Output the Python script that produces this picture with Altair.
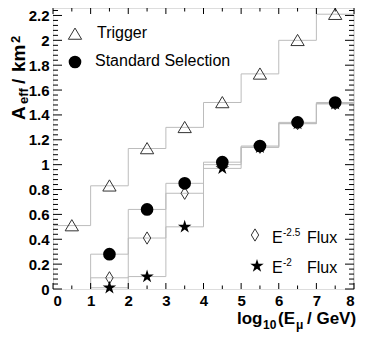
import altair as alt
import pandas as pd

# ---- data ----
centers = [0.5, 1.5, 2.5, 3.5, 4.5, 5.5, 6.5, 7.5]
trigger = [0.51, 0.83, 1.13, 1.30, 1.50, 1.73, 2.00, 2.21]
sel_centers = [1.5, 2.5, 3.5, 4.5, 5.5, 6.5, 7.5]
selection = [0.28, 0.64, 0.85, 1.02, 1.15, 1.34, 1.50]
flux25 = [0.09, 0.41, 0.77, 1.00, 1.14, 1.33, 1.49]
flux2 = [0.01, 0.10, 0.50, 0.97, 1.14, 1.33, 1.49]

y_major = [0, 0.2, 0.4, 0.6, 0.8, 1.0, 1.2, 1.4, 1.6, 1.8, 2.0, 2.2]
x_major = [0, 1, 2, 3, 4, 5, 6, 7, 8]

FONT = "Liberation Sans"
W, H = 301, 281
xs = alt.Scale(domain=[0, 8], nice=False, zero=False)
ys = alt.Scale(domain=[0, 2.26], nice=False, zero=False)

X_AX = alt.Axis(values=x_major, format="d", ticks=False, domain=False, grid=False,
                labelFont=FONT, labelFontWeight="bold", labelFontSize=15,
                labelColor="black", labelPadding=4, title=None)
Y_AX = alt.Axis(values=y_major, format=".1~f", ticks=False, domain=False, grid=False,
                labelFont=FONT, labelFontWeight="bold", labelFontSize=15,
                labelColor="black", labelPadding=4, title=None)

TRI = "M0,-0.85L0.95,0.75L-0.95,0.75Z"
DIA = "M0,-1L0.6,0L0,1L-0.6,0Z"
STAR = ("M0,-1L0.223,-0.307L0.951,-0.309L0.361,0.117L0.588,0.809L0,0.38"
        "L-0.588,0.809L-0.361,0.117L-0.951,-0.309L-0.223,-0.307Z")


def steps(name, cs, vals):
    rows = []
    i = 0
    rows.append({"s": name, "i": i, "x": cs[0] - 0.5, "y": 0.0}); i += 1
    for c, v in zip(cs, vals):
        rows.append({"s": name, "i": i, "x": c - 0.5, "y": v}); i += 1
    rows.append({"s": name, "i": i, "x": cs[-1] + 0.5, "y": vals[-1]}); i += 1
    rows.append({"s": name, "i": i, "x": cs[-1] + 0.5, "y": 0.0}); i += 1
    return rows


step_rows = (steps("trig", centers, trigger) + steps("sel", sel_centers, selection)
             + steps("f25", sel_centers, flux25) + steps("f2", sel_centers, flux2))
step_df = pd.DataFrame(step_rows)

lines = alt.Chart(step_df).mark_line(
    interpolate="step-after", color="#bcbcbc", strokeWidth=1, clip=True
).encode(
    x=alt.X("x:Q", scale=xs, axis=X_AX),
    y=alt.Y("y:Q", scale=ys, axis=Y_AX),
    detail="s:N",
    order="i:Q",
)


def pts(cs, vals, shape, size, filled, color, sw=1.0):
    df = pd.DataFrame({"x": cs, "y": vals})
    return alt.Chart(df).mark_point(
        shape=shape, size=size, filled=filled, color=color,
        strokeWidth=sw, opacity=1
    ).encode(
        x=alt.X("x:Q", scale=xs, axis=X_AX),
        y=alt.Y("y:Q", scale=ys, axis=Y_AX),
    )


tri_pts = pts(centers, trigger, TRI, 196, False, "#333333", 1.0)
dia_pts = pts(sel_centers, flux25, DIA, 150, False, "#333333", 1.0)
star_pts = pts(sel_centers, flux2, STAR, 200, True, "black")
circ_pts = pts(sel_centers, selection, "circle", 160, True, "black")

# ---- ticks (inward, ROOT style) ----
y_minor = [round(k * 0.04, 2) for k in range(0, 57) if k % 5 != 0]
x_minor = [k + 0.5 for k in range(0, 8)]


def yticks(vals, length):
    df = pd.DataFrame({"v": vals})
    base = alt.Chart(df).mark_rule(color="black", strokeWidth=1)
    left = base.encode(y=alt.Y("v:Q", scale=ys, axis=Y_AX),
                       x=alt.value(0), x2=alt.value(length))
    right = base.encode(y=alt.Y("v:Q", scale=ys, axis=Y_AX),
                        x=alt.value(W), x2=alt.value(W - length))
    return left + right


def xticks(vals, length):
    df = pd.DataFrame({"v": vals})
    base = alt.Chart(df).mark_rule(color="black", strokeWidth=1)
    bottom = base.encode(x=alt.X("v:Q", scale=xs, axis=X_AX),
                         y=alt.value(H), y2=alt.value(H - length))
    top = base.encode(x=alt.X("v:Q", scale=xs, axis=X_AX),
                      y=alt.value(0), y2=alt.value(length))
    return bottom + top


ticks = yticks(y_major, 9) + yticks(y_minor, 5) + xticks(x_major, 6) + xticks(x_minor, 3.5)


def txt(s, x, y, size, weight="normal", angle=0, align="left"):
    return alt.Chart(pd.DataFrame({"t": [s]})).mark_text(
        font=FONT, fontSize=size, fontWeight=weight, angle=angle,
        align=align, baseline="alphabetic", color="black"
    ).encode(text="t:N", x=alt.value(x), y=alt.value(y))


def sym(shape, x, y, size, filled, color):
    return alt.Chart(pd.DataFrame({"a": [0]})).mark_point(
        shape=shape, size=size, filled=filled, color=color, strokeWidth=1, opacity=1
    ).encode(x=alt.value(x), y=alt.value(y))


legend = (
    sym(TRI, 22, 26, 196, False, "#333333")
    + txt("Trigger", 44, 30, 16)
    + sym("circle", 22, 54, 160, True, "black")
    + txt("Standard Selection", 42, 58, 16)
    + sym(DIA, 202, 227, 150, False, "#333333")
    + txt("E", 219, 235, 16)
    + txt("-2.5", 230, 228, 10)
    + txt("Flux", 254, 235, 16)
    + sym(STAR, 204, 258, 200, True, "black")
    + txt("E", 219, 265, 16)
    + txt("-2", 230, 258, 10)
    + txt("Flux", 254, 265, 16)
)

titles = (
    txt("A", -28, 112, 19, "bold", 270)
    + txt("eff", -25, 96, 13, "bold", 270)
    + txt("/", -28, 76, 19, "bold", 270)
    + txt("km", -28, 64, 19, "bold", 270)
    + txt("2", -33, 35, 13, "bold", 270)
    + txt("log", 184, 316, 17, "bold")
    + txt("10", 210, 321, 12, "bold")
    + txt("(E", 225, 316, 17, "bold")
    + txt("μ", 243, 321, 12, "bold")
    + txt("/ GeV)", 254, 316, 17, "bold")
)

chart = alt.layer(
    lines, tri_pts, dia_pts, star_pts, circ_pts, ticks, legend, titles
).properties(
    width=W, height=H, autosize="none",
    padding={"left": 45, "top": 0, "right": 4, "bottom": 43},
).configure_view(stroke="black", strokeWidth=1).configure(background="white")

chart.save("out.html", embed_options={"renderer": "svg", "actions": False})
